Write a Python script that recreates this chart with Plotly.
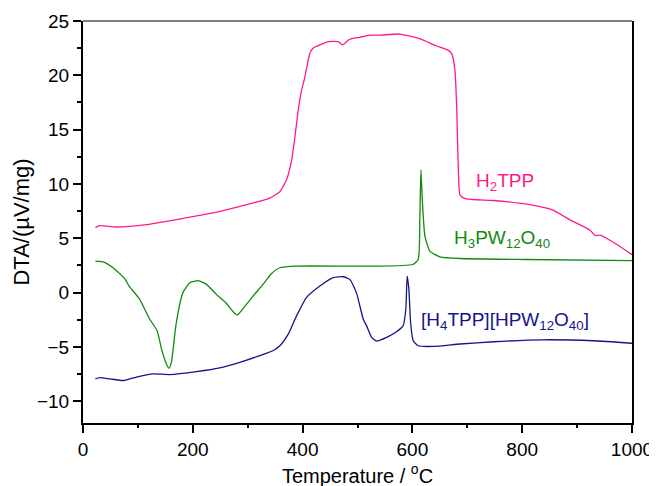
import plotly.graph_objects as go

# H2TPP (pink)
t_h2tpp = [22.6, 30.4, 61, 115.6, 176, 237, 298, 340, 358.6, 370.8, 380, 386, 392, 398, 404, 413, 419,
           431.5, 446.7, 465, 473, 485, 504, 522.7, 541, 577, 614, 644, 665.5, 671.6, 677.6, 680.8,
           683.7, 686.8, 696, 747.5, 808, 854, 887, 923.8, 933, 942, 966, 995.4, 1000]
y_h2tpp = [5.98, 6.16, 6.04, 6.25, 6.77, 7.33, 8.09, 8.7, 9.3, 10.4, 12.2, 14.3, 16.8, 18.6, 19.8, 22.0, 22.5,
           22.8, 23.1, 23.1, 22.8, 23.3, 23.5, 23.7, 23.7, 23.8, 23.35, 22.7, 22.3, 22.0, 20.4, 16.8,
           11.3, 9.0, 8.66, 8.48, 8.15, 7.63, 6.7, 5.74, 5.25, 5.3, 4.64, 3.66, 3.5]

# H3PW12O40 (green)
t_hpw = [22.6, 36.5, 54.7, 76, 84, 103, 121.6, 135, 143, 152, 156.7, 161, 170, 182, 194.5, 209.6, 225,
         243, 261, 274.6, 281.4, 291.6, 310, 328, 343, 358.5, 389, 522.5, 601, 610.6, 613.6, 615.5,
         618, 622.8, 632, 650, 686.8, 808, 1000]
y_hpw = [2.9, 2.84, 2.29, 1.28, 0.6, -0.6, -2.45, -3.5, -5.2, -6.57, -6.96, -6.4, -2.75, 0.0, 0.9, 1.1, 0.76,
         -0.16, -0.98, -1.83, -2.05, -1.47, -0.3, 0.76, 1.74, 2.29, 2.44, 2.44, 2.59, 3.05, 7.0, 11.3,
         8.55, 5.2, 3.8, 3.3, 3.14, 3.05, 2.95]

# [H4TPP][HPW12O40] (blue)
t_comp = [22.6, 30.4, 48.7, 73, 85, 103, 127.6, 158, 206.7, 249, 285.6, 322, 346, 358.6, 373.8, 389, 407,
          431.5, 455.8, 474, 486, 498, 510.5, 516.6, 525.7, 534.7, 553, 571, 583, 588, 590.5, 593.6,
          596.7, 601.4, 610.6, 638, 686.8, 747.5, 838.5, 929.5, 1000]
y_comp = [-7.94, -7.82, -7.94, -8.09, -7.94, -7.7, -7.48, -7.54, -7.27, -6.93, -6.41, -5.8, -5.35, -4.89,
          -3.82, -2.14, -0.46, 0.6, 1.37, 1.46, 1.22, 0.0, -2.45, -3.06, -4.12, -4.46, -4.12, -3.6, -3.06,
          -1.53, 1.52, 0.3, -2.75, -4.43, -4.89, -4.95, -4.73, -4.52, -4.34, -4.43, -4.66]

labels = ["H<sub>2</sub>TPP", "H<sub>3</sub>PW<sub>12</sub>O<sub>40</sub>",
          "[H<sub>4</sub>TPP][HPW<sub>12</sub>O<sub>40</sub>]"]
label_x = [712, 672, 612]
label_y = [10.2, 4.9, -2.6]
colors = ["#FF1A8C", "#118A11", "#14148C"]

FONT = "Arial, Liberation Sans, Helvetica, sans-serif"

fig = go.Figure()
for t, y, c in [(t_h2tpp, y_h2tpp, colors[0]), (t_hpw, y_hpw, colors[1]), (t_comp, y_comp, colors[2])]:
    fig.add_trace(go.Scatter(x=t, y=y, mode="lines",
                             line=dict(color=c, width=1.3, shape="spline", smoothing=0.5),
                             showlegend=False))

for txt, lx, ly, c in zip(labels, label_x, label_y, colors):
    fig.add_annotation(x=lx, y=ly, text=txt, showarrow=False, xanchor="left", yanchor="middle",
                       font=dict(family=FONT, size=19, color=c))

fig.add_shape(type="line", xref="paper", yref="paper", x0=0, x1=1, y0=1, y1=1,
              line=dict(color="#808080", width=2))

fig.update_layout(
    width=657, height=486,
    margin=dict(l=75, r=33, t=13, b=71),
    plot_bgcolor="white", paper_bgcolor="white",
    font=dict(family=FONT, size=19, color="black"),
    xaxis=dict(range=[0, 1000], tickvals=[0, 200, 400, 600, 800, 1000], ticks="outside", ticklen=8,
               tickwidth=1.5, tickcolor="black", showline=True, linecolor="black", linewidth=2,
               showgrid=False, zeroline=False, mirror=False, automargin=False,
               minor=dict(dtick=100, ticks="outside", ticklen=3, tickwidth=1.5, tickcolor="black"),
               title=dict(text="Temperature / <sup>o</sup>C", font=dict(size=20), standoff=10),
               tickfont=dict(size=19)),
    yaxis=dict(range=[-12, 25], tickvals=[-10, -5, 0, 5, 10, 15, 20, 25], ticks="outside", ticklen=8,
               tickwidth=1.5, tickcolor="black", showline=True, linecolor="black", linewidth=2,
               showgrid=False, zeroline=False, mirror=True, automargin=False,
               minor=dict(dtick=2.5, tick0=0, ticks="outside", ticklen=4, tickwidth=1.5, tickcolor="black"),
               title=dict(text="DTA/(µV/mg)", font=dict(size=22), standoff=1),
               tickfont=dict(size=19)),
)

fig.write_html("out.html")
